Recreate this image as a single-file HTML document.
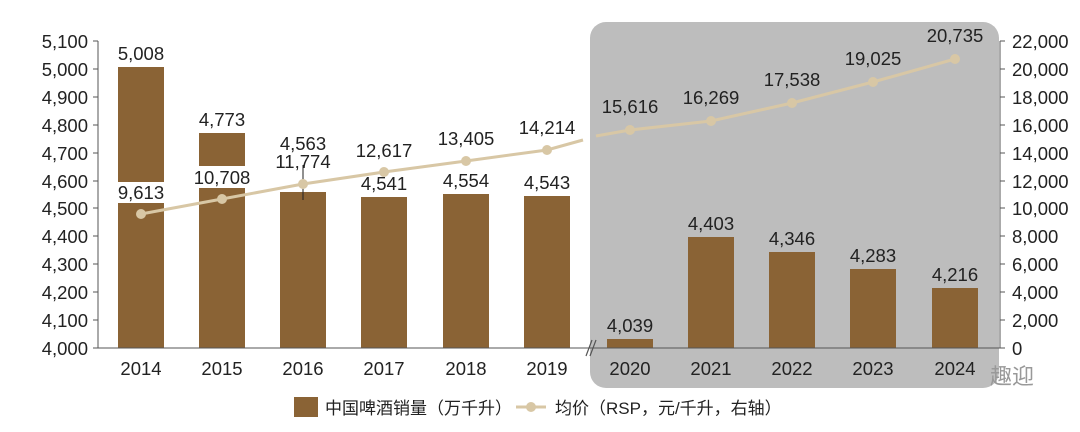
<!DOCTYPE html>
<html><head><meta charset="utf-8"><style>
body{margin:0;background:#fff;width:1080px;height:427px;overflow:hidden}
svg text{font-family:"Liberation Sans","Noto Sans CJK SC",sans-serif;fill:#222}
</style></head><body>
<svg width="1080" height="427" viewBox="0 0 1080 427">
<rect x="590" y="22" width="409" height="366" rx="16" fill="#bdbdbd"/>
<g fill="#8a6335">
<rect x="118" y="67" width="46" height="115"/><rect x="118" y="203" width="46" height="145"/>
<rect x="199" y="133" width="46" height="33"/><rect x="199" y="188" width="46" height="160"/>
<rect x="280" y="192" width="46" height="156"/>
<rect x="361" y="197" width="46" height="151"/>
<rect x="443" y="194" width="46" height="154"/>
<rect x="524" y="196" width="46" height="152"/>
<rect x="607" y="339" width="46" height="9"/>
<rect x="688" y="237" width="46" height="111"/>
<rect x="769" y="252" width="46" height="96"/>
<rect x="850" y="269" width="46" height="79"/>
<rect x="932" y="288" width="46" height="60"/>
</g>
<line x1="303" y1="165" x2="303" y2="200" stroke="#222" stroke-width="1"/>
<g stroke="#555" stroke-width="1">
<line x1="98" y1="41" x2="98" y2="348"/>
<line x1="98" y1="348" x2="1000" y2="348"/>
<line x1="1000" y1="41" x2="1000" y2="348"/>
</g>
<g stroke="#555">
<line x1="93" y1="41" x2="98" y2="41"/><line x1="93" y1="69" x2="98" y2="69"/><line x1="93" y1="97" x2="98" y2="97"/><line x1="93" y1="125" x2="98" y2="125"/><line x1="93" y1="153" x2="98" y2="153"/><line x1="93" y1="181" x2="98" y2="181"/><line x1="93" y1="208" x2="98" y2="208"/><line x1="93" y1="236" x2="98" y2="236"/><line x1="93" y1="264" x2="98" y2="264"/><line x1="93" y1="292" x2="98" y2="292"/><line x1="93" y1="320" x2="98" y2="320"/><line x1="93" y1="348" x2="98" y2="348"/>
<line x1="1000" y1="41" x2="1005" y2="41"/><line x1="1000" y1="69" x2="1005" y2="69"/><line x1="1000" y1="97" x2="1005" y2="97"/><line x1="1000" y1="125" x2="1005" y2="125"/><line x1="1000" y1="153" x2="1005" y2="153"/><line x1="1000" y1="181" x2="1005" y2="181"/><line x1="1000" y1="208" x2="1005" y2="208"/><line x1="1000" y1="236" x2="1005" y2="236"/><line x1="1000" y1="264" x2="1005" y2="264"/><line x1="1000" y1="292" x2="1005" y2="292"/><line x1="1000" y1="320" x2="1005" y2="320"/><line x1="1000" y1="348" x2="1005" y2="348"/>
</g>
<path d="M586 356 L592 340 M590 356 L596 340" stroke="#555" stroke-width="1.2"/>
<g font-size="18.5" text-anchor="end">
<text x="88" y="48">5,100</text><text x="88" y="76">5,000</text><text x="88" y="104">4,900</text><text x="88" y="132">4,800</text><text x="88" y="160">4,700</text><text x="88" y="188">4,600</text><text x="88" y="215">4,500</text><text x="88" y="243">4,400</text><text x="88" y="271">4,300</text><text x="88" y="299">4,200</text><text x="88" y="327">4,100</text><text x="88" y="355">4,000</text>
</g>
<g font-size="18.5" text-anchor="start">
<text x="1012" y="48">22,000</text><text x="1012" y="76">20,000</text><text x="1012" y="104">18,000</text><text x="1012" y="132">16,000</text><text x="1012" y="160">14,000</text><text x="1012" y="188">12,000</text><text x="1012" y="215">10,000</text><text x="1012" y="243">8,000</text><text x="1012" y="271">6,000</text><text x="1012" y="299">4,000</text><text x="1012" y="327">2,000</text><text x="1012" y="355">0</text>
</g>
<g font-size="18.5" text-anchor="middle">
<text x="141" y="375">2014</text><text x="222" y="375">2015</text><text x="303" y="375">2016</text><text x="384" y="375">2017</text><text x="466" y="375">2018</text><text x="547" y="375">2019</text><text x="630" y="375">2020</text><text x="711" y="375">2021</text><text x="792" y="375">2022</text><text x="873" y="375">2023</text><text x="955" y="375">2024</text>
<text x="141" y="60">5,008</text><text x="222" y="126">4,773</text><text x="303" y="150">4,563</text><text x="384" y="190">4,541</text><text x="466" y="187">4,554</text><text x="547" y="189">4,543</text><text x="630" y="332">4,039</text><text x="711" y="230">4,403</text><text x="792" y="245">4,346</text><text x="873" y="262">4,283</text><text x="955" y="281">4,216</text>
<text x="141" y="199">9,613</text><text x="222" y="184">10,708</text><text x="303" y="168">11,774</text><text x="384" y="157">12,617</text><text x="466" y="145">13,405</text><text x="547" y="134">14,214</text><text x="630" y="113">15,616</text><text x="711" y="104">16,269</text><text x="792" y="86">17,538</text><text x="873" y="65">19,025</text><text x="955" y="42">20,735</text>
</g>
<polyline points="141,214 222,199 303,184 384,172 466,161 547,150 583,140" fill="none" stroke="#d8c7a5" stroke-width="3"/>
<polyline points="596,136 630,130 711,121 792,103 873,82 955,59" fill="none" stroke="#d8c7a5" stroke-width="3"/>
<g fill="#d8c7a5">
<circle cx="141" cy="214" r="5"/><circle cx="222" cy="199" r="5"/><circle cx="303" cy="184" r="5"/><circle cx="384" cy="172" r="5"/><circle cx="466" cy="161" r="5"/><circle cx="547" cy="150" r="5"/><circle cx="630" cy="130" r="5"/><circle cx="711" cy="121" r="5"/><circle cx="792" cy="103" r="5"/><circle cx="873" cy="82" r="5"/><circle cx="955" cy="59" r="5"/>
</g>
<rect x="294" y="397" width="24" height="20" fill="#8a6335"/>
<text x="325" y="414" font-size="17">中国啤酒销量（万千升）</text>
<line x1="516" y1="407" x2="546" y2="407" stroke="#d8c7a5" stroke-width="3"/>
<circle cx="531" cy="407" r="5" fill="#d8c7a5"/>
<text x="555" y="414" font-size="17">均价（RSP，元/千升，右轴）</text>
<text x="990" y="384" font-size="22" style="fill:#999">趣迎</text>
</svg>
</body></html>
